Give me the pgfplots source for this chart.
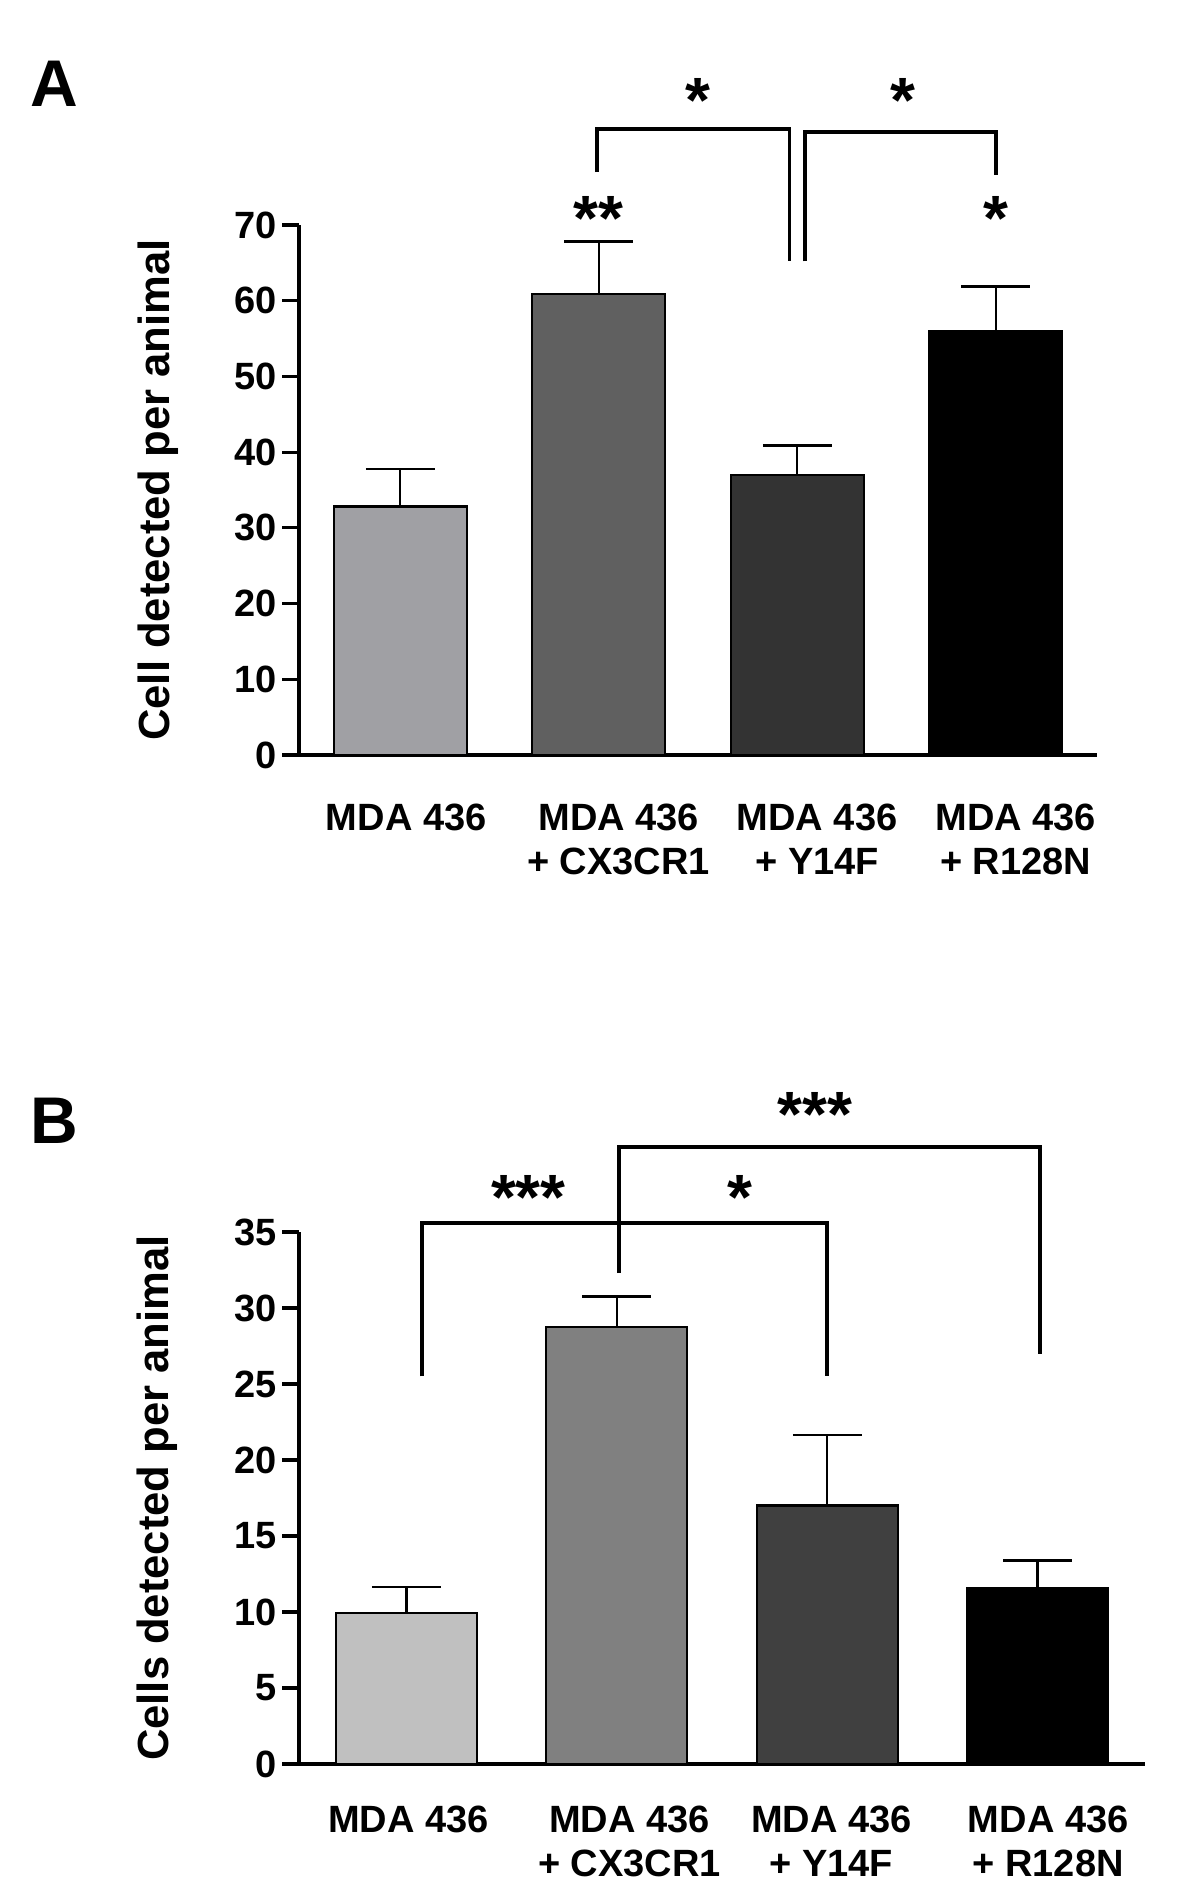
\documentclass[border=0pt]{standalone}
\usepackage{fontspec}
\setmainfont{Liberation Sans}
\usepackage{pgfplots}
\pgfplotsset{compat=1.18}

\definecolor{gA1}{HTML}{A0A0A4}
\definecolor{gA2}{HTML}{606060}
\definecolor{gA3}{HTML}{333333}
\definecolor{gB1}{HTML}{C0C0C0}
\definecolor{gB2}{HTML}{808080}
\definecolor{gB3}{HTML}{404040}

\pgfplotsset{
  panel/.style={
    scale only axis, ybar, bar shift=0pt, bar width=0.67,
    xmin=-0.51, xmax=3.51, ymin=0, clip=false,
    axis x line=bottom, axis y line=left,
    axis line style={line width=0.8pt, -, black},
    xtick style={draw=none},
    ytick style={line width=0.8pt, black},
    tick align=outside, major tick length=4.2pt,
    /pgf/number format/assume math mode=true,
    yticklabel style={font=\fontsize{9.5}{9.5}\selectfont\bfseries, inner sep=1.2pt},
    xticklabel style={font=\fontsize{9.5}{11}\selectfont\bfseries, align=center},
    ylabel style={font=\fontsize{10.9}{11}\selectfont\bfseries, anchor=center},
    error bars/y dir=plus, error bars/y explicit,
    error bars/error bar style={line width=0.6pt, black},
    error bars/error mark options={rotate=90, line width=0.6pt, mark size=8.6pt, black},
  },
}
\tikzset{
  bk/.style={line width=0.9pt, black},
  st/.style={anchor=base, yshift=-8pt, inner sep=0pt, font=\fontsize{16}{16}\selectfont\bfseries},
}

\begin{document}
\begin{tikzpicture}
\path[use as bounding box] (0,0) rectangle (300pt,-471.5pt);
\node[anchor=north west, inner sep=0pt, font=\fontsize{16.5}{16.5}\selectfont\bfseries] at (7.5pt,-15pt) {A};
\node[anchor=north west, inner sep=0pt, font=\fontsize{16.5}{16.5}\selectfont\bfseries] at (7.5pt,-274.25pt) {B};

\begin{axis}[panel,
  at={(74.75pt,-188.75pt)}, anchor=south west,
  width=199.5pt, height=132.5pt, ymax=70,
  ytick={0,10,...,70},
  xtick={0.03,1.1,2.1,3.1},
  xticklabels={MDA 436, MDA 436\\+ CX3CR1, MDA 436\\+ Y14F, MDA 436\\+ R128N},
  xticklabel style={yshift=-4.5pt},
  ylabel={Cell detected per animal},
  ylabel style={at={(axis description cs:-0.177,0.5)}},
]
\addplot[fill=gA1, draw=black, line width=0.6pt] coordinates {(0,32.8) +- (0,5.0)};
\addplot[fill=gA2, draw=black, line width=0.6pt] coordinates {(1,60.9) +- (0,6.9)};
\addplot[fill=gA3, draw=black, line width=0.6pt] coordinates {(2,37.0) +- (0,3.9)};
\addplot[fill=black, draw=black, line width=0.6pt] coordinates {(3,56.0) +- (0,5.9)};
\draw[bk] (axis cs:0.99,77.0) -- (axis cs:0.99,82.7) -- (axis cs:1.96,82.7) -- (axis cs:1.96,65.2);
\draw[bk] (axis cs:2.04,65.2) -- (axis cs:2.04,82.3) -- (axis cs:3.0,82.3) -- (axis cs:3.0,76.6);
\node[st] at (axis cs:1.5,87.7) {*};
\node[st] at (axis cs:2.53,87.7) {*};
\node[st] at (axis cs:1.0,72.2) {**};
\node[st] at (axis cs:3.0,72.2) {*};
\end{axis}

\begin{axis}[panel,
  at={(74.75pt,-441pt)}, anchor=south west,
  width=211.5pt, height=133pt, ymax=35,
  ytick={0,5,...,35},
  xtick={0.01,1.06,2.02,3.05},
  xticklabels={MDA 436, MDA 436\\+ CX3CR1, MDA 436\\+ Y14F, MDA 436\\+ R128N},
  xticklabel style={yshift=-2.7pt},
  ylabel={Cells detected per animal},
  ylabel style={at={(axis description cs:-0.167,0.5)}},
]
\addplot[fill=gB1, draw=black, line width=0.6pt] coordinates {(0,9.95) +- (0,1.7)};
\addplot[fill=gB2, draw=black, line width=0.6pt] coordinates {(1,28.75) +- (0,2.0)};
\addplot[fill=gB3, draw=black, line width=0.6pt] coordinates {(2,17.0) +- (0,4.65)};
\addplot[fill=black, draw=black, line width=0.6pt] coordinates {(3,11.6) +- (0,1.8)};
\draw[bk] (axis cs:0.075,25.5) -- (axis cs:0.075,35.6) -- (axis cs:2.0,35.6) -- (axis cs:2.0,25.5);
\draw[bk] (axis cs:1.01,32.3) -- (axis cs:1.01,40.6) -- (axis cs:3.01,40.6) -- (axis cs:3.01,27.0);
\node[st] at (axis cs:0.58,37.9) {***};
\node[st] at (axis cs:1.585,37.9) {*};
\node[st] at (axis cs:1.94,43.4) {***};
\end{axis}
\end{tikzpicture}
\end{document}
